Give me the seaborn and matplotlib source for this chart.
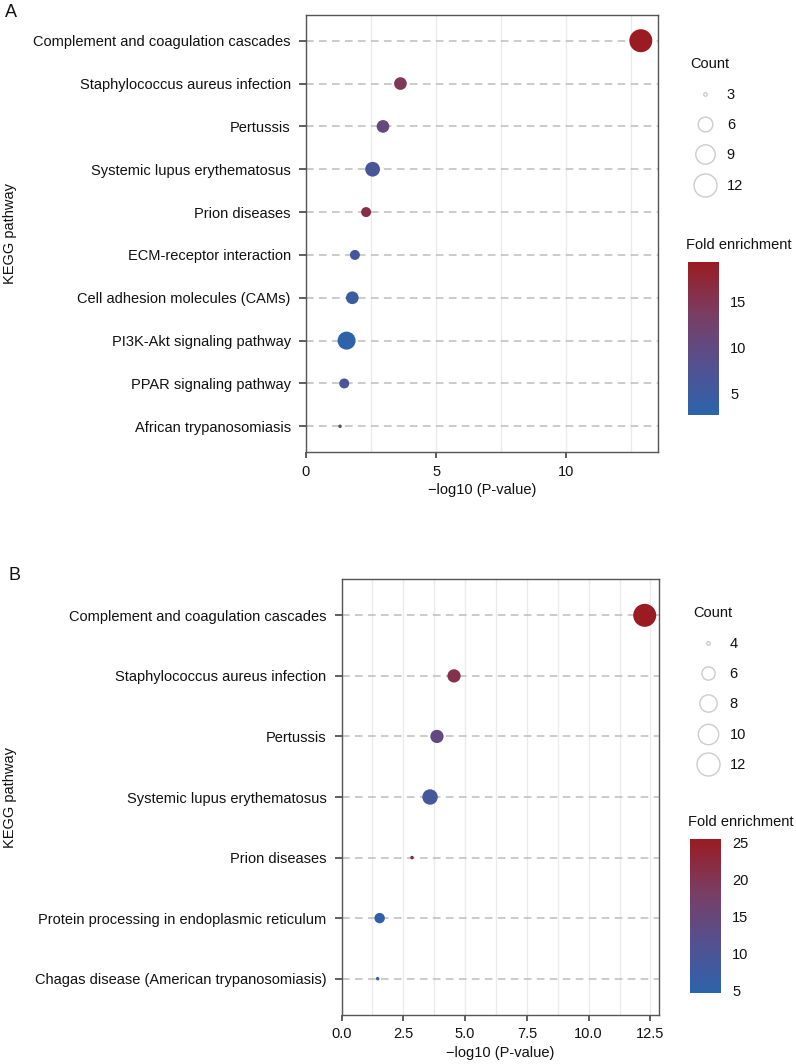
import numpy as np
import pandas as pd
import matplotlib
matplotlib.use("Agg")
import matplotlib.pyplot as plt
import matplotlib.colors as mcolors
from matplotlib.lines import Line2D
from matplotlib.ticker import MultipleLocator
import seaborn as sns

# ── data ────────────────────────────────────────────────────────────────
A_PATHWAYS = ["Complement and coagulation cascades", "Staphylococcus aureus infection",
              "Pertussis", "Systemic lupus erythematosus", "Prion diseases",
              "ECM-receptor interaction", "Cell adhesion molecules (CAMs)",
              "PI3K-Akt signaling pathway", "PPAR signaling pathway",
              "African trypanosomiasis"]
A_LOGP = [12.87, 3.63, 2.96, 2.56, 2.31, 1.88, 1.78, 1.56, 1.47, 1.31]
A_COUNT = [12, 5, 5, 6, 4, 4, 5, 8, 4, 3]
A_FOLD = [19.25, 14.5, 10.5, 6.5, 16.0, 6.3, 5.0, 2.65, 7.0, 11.0]
A_SIZE_BREAKS = [3, 6, 9, 12]
A_CBAR_TICKS = [5, 10, 15]

B_PATHWAYS = ["Complement and coagulation cascades", "Staphylococcus aureus infection",
              "Pertussis", "Systemic lupus erythematosus", "Prion diseases",
              "Protein processing in endoplasmic reticulum",
              "Chagas disease (American trypanosomiasis)"]
B_LOGP = [12.27, 4.55, 3.86, 3.58, 2.85, 1.54, 1.46]
B_COUNT = [12, 6, 6, 7, 4, 5, 4]
B_FOLD = [25.5, 21.0, 14.0, 9.0, 23.0, 5.2, 4.6]
B_SIZE_BREAKS = [4, 6, 8, 10, 12]
B_CBAR_TICKS = [5, 10, 15, 20, 25]

W, H = 796, 1064
CMAP = mcolors.LinearSegmentedColormap.from_list(
    "fold", ["#2C63AB", "#55508F", "#7A3D62", "#9A1B22"])
GRID = "#EBEBEB"
FONT = ["Liberation Sans", "DejaVu Sans"]

sns.set_theme(style="white")
plt.rcParams.update({"font.family": FONT, "font.size": 10.5,
                     "text.color": "#111111", "axes.labelcolor": "#111111",
                     "xtick.color": "#333333", "ytick.color": "#333333",
                     "xtick.labelcolor": "#111111", "ytick.labelcolor": "#111111"})


def px(l, t, r, b):
    return [l / W, 1 - b / H, (r - l) / W, (b - t) / H]


def size_area(v, vmin, vmax, dmin=3.5, dmax=23):
    # ggplot-like: diameter grows with sqrt of rescaled value
    d = dmin + (dmax - dmin) * np.sqrt((v - vmin) / (vmax - vmin))
    return (d * 0.72) ** 2


def panel(fig, rect, cbar_rect, leg_xy, letter, letter_xy, ylab_x,
          paths, logp, count, fold, breaks, cticks, xmax, major, minor):
    df = pd.DataFrame({"pathway": paths, "logp": logp, "count": count, "fold": fold})
    vmin, vmax = min(breaks), max(breaks)
    sizes = {c: size_area(c, vmin, vmax) for c in df["count"].unique()}
    norm = mcolors.Normalize(df["fold"].min(), df["fold"].max())

    ax = fig.add_axes(px(*rect))
    n = len(paths)
    for i in range(n):
        ax.axhline(i, color="#BDBDBD", lw=1.1, ls=(0, (5, 3.5)), zorder=1)
    sns.scatterplot(data=df, x="logp", y="pathway", size="count", sizes=sizes,
                    hue="fold", palette=CMAP, hue_norm=norm, legend=False,
                    edgecolor="none", ax=ax, zorder=3)
    ax.set_xlim(0, xmax)
    ax.set_ylim(n - 0.4, -0.6)
    ax.xaxis.set_major_locator(MultipleLocator(major))
    ax.xaxis.set_minor_locator(MultipleLocator(minor))
    ax.grid(True, which="both", axis="x", color=GRID, lw=1, zorder=0)
    ax.set_axisbelow(True)
    for s in ax.spines.values():
        s.set_color("#555555")
        s.set_linewidth(1)
    ax.tick_params(axis="y", left=True, length=5, width=1.1, color="#333333",
                   pad=6, labelsize=10.5)
    ax.tick_params(axis="x", bottom=True, length=4, width=1.1, color="#333333",
                   pad=5, labelsize=10.5)
    ax.tick_params(axis="x", which="minor", bottom=False)
    if major == 2.5:
        ax.set_xticklabels([f"{t:.1f}" for t in ax.get_xticks()])
    ax.set_xlabel("−log10 (P-value)", fontsize=10.5, labelpad=3)
    ax.set_ylabel("")
    fig.text(ylab_x / W, 1 - (rect[1] + rect[3]) / 2 / H, "KEGG pathway",
             rotation=90, va="center", ha="center", fontsize=10.5)
    fig.text(letter_xy[0] / W, 1 - letter_xy[1] / H, letter, fontsize=13,
             ha="left", va="top")

    # size legend
    handles = [Line2D([], [], ls="", marker="o", markerfacecolor="none",
                      markeredgecolor="#CCCCCC", markeredgewidth=1.0,
                      markersize=np.sqrt(size_area(b, vmin, vmax)))
               for b in breaks]
    fig.legend(handles, [str(b) for b in breaks], title="Count",
               loc="upper left", bbox_to_anchor=(leg_xy[0] / W, 1 - leg_xy[1] / H),
               frameon=False, fontsize=10.5, title_fontsize=10.5,
               labelspacing=1.12, handletextpad=0.5, borderpad=0,
               alignment="left")

    # colour bar
    cax = fig.add_axes(px(*cbar_rect))
    sm = plt.cm.ScalarMappable(norm=norm, cmap=CMAP)
    cb = fig.colorbar(sm, cax=cax, ticks=cticks)
    cb.outline.set_visible(False)
    cax.tick_params(axis="y", direction="in", color="white", length=5, width=1,
                    left=True, right=True, labelleft=False, labelright=True,
                    labelsize=10.5, pad=8)
    fig.text((cbar_rect[0] - 2) / W, 1 - (cbar_rect[1] - 10) / H,
             "Fold enrichment", fontsize=10.5, ha="left", va="bottom")
    return ax


fig = plt.figure(figsize=(W / 100, H / 100), dpi=100)

panel(fig, (306, 15, 658, 452), (688, 262, 719, 415), (683, 50), "A", (5, 4), 10,
      A_PATHWAYS, A_LOGP, A_COUNT, A_FOLD, A_SIZE_BREAKS, A_CBAR_TICKS,
      13.53, 5, 2.5)
panel(fig, (341.6, 579, 659.3, 1015), (690, 839, 721, 993), (686, 599), "B", (8, 567), 10,
      B_PATHWAYS, B_LOGP, B_COUNT, B_FOLD, B_SIZE_BREAKS, B_CBAR_TICKS,
      12.86, 2.5, 1.25)

plt.savefig("out.png", dpi=100)
plt.close()
